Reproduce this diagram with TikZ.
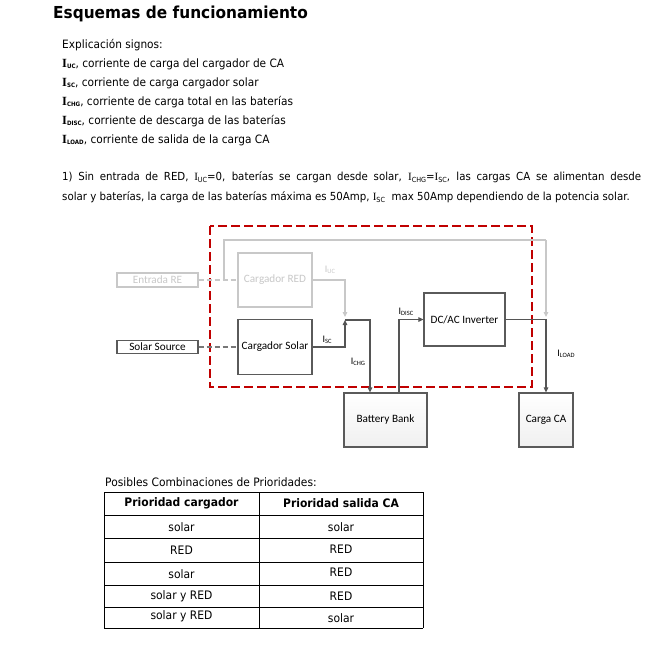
\documentclass[tikz,border=0pt]{standalone}
\usepackage{fontspec}
\usetikzlibrary{arrows.meta}
\setmainfont{DejaVu Sans}[FakeStretch=0.92]
\newfontfamily\titlefont{DejaVu Sans}[FakeStretch=0.93]
\newfontfamily\diafont{Carlito}
\newfontfamily\serifI{Liberation Serif}
\newcommand\BI[1]{{\serifI\bfseries\fontsize{12.5}{13}\selectfont I}\raisebox{-.25ex}{\fontsize{6}{6}\selectfont\bfseries #1}}
\newcommand\NI[1]{{\serifI I}\raisebox{-.35ex}{\fontsize{7}{7}\selectfont #1}}
\newcommand\DI[1]{I\raisebox{-.2ex}{\fontsize{6.5}{7}\selectfont #1}}
\definecolor{boxgray}{HTML}{5A5A5A}
\definecolor{lgray}{HTML}{C8C8C8}
\definecolor{redd}{HTML}{C00000}
\definecolor{arrgray}{HTML}{555555}
\tikzset{
  txt/.style={inner sep=0pt,anchor=base west,font=\fontsize{11.5}{13}\selectfont},
  ptxt/.style={inner sep=0pt,anchor=base west,font=\fontsize{11.1}{13}\selectfont},
  dbox/.style={draw=boxgray,line width=1.2pt,inner sep=0pt,font=\diafont\fontsize{11.2}{13}\selectfont},
  lbox/.style={draw=lgray,line width=1.2pt,inner sep=0pt,text=lgray,font=\diafont\fontsize{11.2}{13}\selectfont},
  shbox/.style={dbox,top color=white,bottom color=gray!12},
  darr/.style={draw=arrgray,line width=1.1pt,-{Triangle[length=5pt,width=4.5pt]}},
  larr/.style={draw=lgray,line width=1.1pt,-{Triangle[length=5pt,width=4.5pt]}},
  lline/.style={draw=lgray,line width=1.1pt},
  ddash/.style={draw=arrgray!80,line width=1.2pt,dash pattern=on 5pt off 3pt},
  ldash/.style={draw=lgray,line width=1.2pt,dash pattern=on 5pt off 3pt},
  lab/.style={inner sep=0pt,font=\diafont\fontsize{10}{11}\selectfont},
  cell/.style={inner sep=0pt,font=\fontsize{11.7}{13}\selectfont},
  tline/.style={draw=black,line width=0.8pt}
}
\begin{document}
\begin{tikzpicture}[x=1pt,y=-1pt]
\useasboundingbox[fill=white] (0,0) rectangle (653,648);
% title and explanation
\node[txt,font=\titlefont\bfseries\fontsize{16.5}{18}\selectfont] (title) at (53,18) {Esquemas de funcionamiento};
\node[txt] (e0) at (62,48) {Explicación signos:};
\node[txt] (e1) at (62,67) {\BI{UC}, corriente de carga del cargador de CA};
\node[txt] (e2) at (62,86) {\BI{SC}, corriente de carga cargador solar};
\node[txt] (e3) at (62,105) {\BI{CHG}, corriente de carga total en las baterías};
\node[txt] (e4) at (62,124) {\BI{DISC}, corriente de descarga de las baterías};
\node[txt] (e5) at (62,143) {\BI{LOAD}, corriente de salida de la carga CA};
\node[ptxt] (p1) at (62,180) {\makebox[579pt][s]{1) Sin entrada de RED, \NI{UC}=0, baterías se cargan desde solar, \NI{CHG}=\NI{SC}, las cargas CA se alimentan desde}};
\node[ptxt] (p2) at (62,200) {solar y baterías, la carga de las baterías máxima es 50Amp, \NI{SC}\ \ max 50Amp dependiendo de la potencia solar.};
% red dashed frame
\draw[redd,line width=1.6pt,dash pattern=on 9pt off 4pt] (210,226) rectangle (532,387);
% boxes
\node[lbox,minimum width=81pt,minimum height=14pt] (ent) at (157.5,280) {Entrada RE};
\node[lbox,minimum width=74pt,minimum height=54pt] (cred) at (275,280) {Cargador RED};
\node[dbox,minimum width=81pt,minimum height=13pt,text=black] (sol) at (157.5,347) {Solar Source};
\node[dbox,minimum width=74pt,minimum height=55pt] (csol) at (275,347) {Cargador Solar};
\node[dbox,minimum width=81pt,minimum height=53pt] (inv) at (464.5,319.5) {DC/AC Inverter};
\node[shbox,minimum width=83pt,minimum height=54pt] (bat) at (385.5,420) {Battery Bank};
\node[shbox,minimum width=54pt,minimum height=54pt] (carga) at (546,420) {Carga CA};
% coordinates
\coordinate (j1) at (224,280);
\coordinate (top1) at (224,240);
\coordinate (top2) at (546,240);
\coordinate (acend) at (546,317);
\coordinate (m) at (345,320);
\coordinate (mu) at (345,317);
\coordinate (chg) at (370,320);
\coordinate (disc) at (399,392);
% connectors
\draw[ldash] (ent.east) -- (cred.west);
\draw[lline] (j1) -- (top1) -- (top2);
\draw[larr] (top2) -- (acend);
\draw[larr] (cred.east) -| (mu);
\draw[ddash] (sol.east) -- (csol.west);
\draw[darr] (csol.east) -| (m);
\draw[darr] (m) -- (chg) -- (chg |- bat.north);
\draw[darr] (disc) |- (inv.west);
\draw[darr] (inv.east) -| (carga.north);
% labels
\node[lab,text=lgray] (luc) at (330,270) {\DI{UC}};
\node[lab] (lsc) at (327,340) {\DI{SC}};
\node[lab] (lchg) at (358,362) {\DI{CHG}};
\node[lab] (ldisc) at (406,312) {\DI{DISC}};
\node[lab] (lload) at (566,354) {\DI{LOAD}};
% table
\node[txt,font=\fontsize{11.6}{13}\selectfont] (tcap) at (105,486) {Posibles Combinaciones de Prioridades:};
\foreach \y in {492,515,538,562,585,607,628} \draw[tline] (104,\y) -- (423,\y);
\foreach \x in {104,259,423} \draw[tline] (\x,492) -- (\x,628);
\node[cell,font=\bfseries\fontsize{11.7}{13}\selectfont] (h1) at (181.5,503.5) {Prioridad cargador};
\node[cell,font=\bfseries\fontsize{11.7}{13}\selectfont] (h2) at (341,503.5) {Prioridad salida CA};
\node[cell] (a1) at (181.5,527) {solar};
\node[cell] (b1) at (341,527) {solar};
\node[cell] (a2) at (181.5,550) {RED};
\node[cell] (b2) at (341,549) {RED};
\node[cell] (a3) at (181.5,574) {solar};
\node[cell] (b3) at (341,572) {RED};
\node[cell] (a4) at (181.5,596) {solar y RED};
\node[cell] (b4) at (341,596) {RED};
\node[cell] (a5) at (181.5,616) {solar y RED};
\node[cell] (b5) at (341,618) {solar};
\end{tikzpicture}
\end{document}
